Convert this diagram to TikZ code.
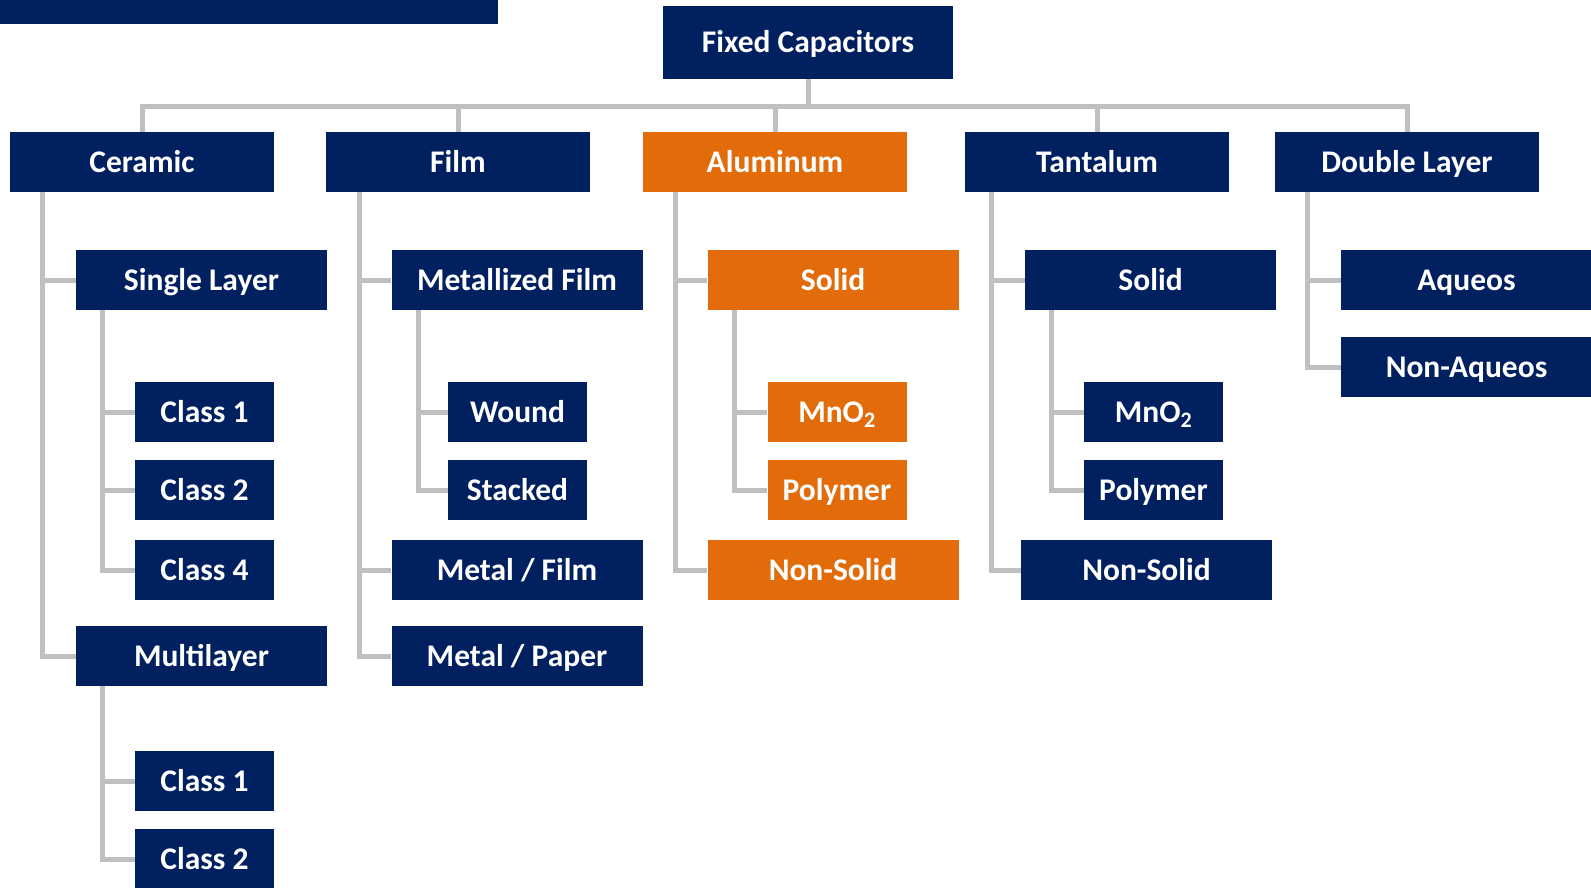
\documentclass[tikz,border=0pt]{standalone}
\usepackage{fontspec}
\setmainfont{Carlito}
\definecolor{capnavy}{RGB}{0,32,96}
\definecolor{caporange}{RGB}{227,108,10}
\definecolor{capgray}{RGB}{191,191,191}
\begin{document}
\begin{tikzpicture}
[x=1pt,y=-1pt,
  boxdecorate/.style={shape=rectangle,fill=capnavy,text=white,inner sep=0pt,%
    minimum height=60pt,text height=20pt,text depth=0pt,%
    font=\fontsize{31.5}{36}\selectfont\bfseries},
  alubox/.style={boxdecorate,fill=caporange},
  topwidth/.style={minimum width=264pt},
  midwidth/.style={minimum width=251pt},
  lowwidth/.style={minimum width=139pt},
  linkdecorate/.style={draw=capgray,line width=5pt}]
\useasboundingbox (0,0) rectangle (1591,887);
% title bar, cut off at the top
\fill[capnavy] (0,0) rectangle (498,24);
% nodes or vertices
\node (fc) at (808,42.5) [boxdecorate,minimum width=290pt,minimum height=73pt] {Fixed Capacitors};
\coordinate (bus) at (808,106);
\node (ceramic) at (142,162) [boxdecorate,topwidth] {Ceramic};
\node (film) at (458,162) [boxdecorate,topwidth] {Film};
\node (alu) at (775,162) [alubox,topwidth] {Aluminum};
\node (tant) at (1097,162) [boxdecorate,topwidth] {Tantalum};
\node (dbl) at (1407,162) [boxdecorate,topwidth] {Double Layer};
% ceramic
\node (single) at (201.5,280) [boxdecorate,midwidth] {Single Layer};
\node (sclass1) at (204.5,412) [boxdecorate,lowwidth] {Class 1};
\node (sclass2) at (204.5,490) [boxdecorate,lowwidth] {Class 2};
\node (sclass4) at (204.5,570) [boxdecorate,lowwidth] {Class 4};
\node (multi) at (201.5,656) [boxdecorate,midwidth] {Multilayer};
\node (mclass1) at (204.5,781) [boxdecorate,lowwidth] {Class 1};
\node (mclass2) at (204.5,859) [boxdecorate,lowwidth] {Class 2};
% film
\node (metfilm) at (517,280) [boxdecorate,midwidth] {Metallized Film};
\node (wound) at (517.5,412) [boxdecorate,lowwidth] {Wound};
\node (stacked) at (517.5,490) [boxdecorate,lowwidth] {Stacked};
\node (metalfilm) at (517,570) [boxdecorate,midwidth] {Metal / Film};
\node (metalpaper) at (517,656) [boxdecorate,midwidth] {Metal / Paper};
% aluminum
\node (asolid) at (833,280) [alubox,midwidth] {Solid};
\node (amno) at (837,412) [alubox,lowwidth] {MnO\textsubscript{2}};
\node (apoly) at (837,490) [alubox,lowwidth] {Polymer};
\node (anonsolid) at (833,570) [alubox,midwidth] {Non-Solid};
% tantalum
\node (tsolid) at (1150.5,280) [boxdecorate,midwidth] {Solid};
\node (tmno) at (1153.5,412) [boxdecorate,lowwidth] {MnO\textsubscript{2}};
\node (tpoly) at (1153.5,490) [boxdecorate,lowwidth] {Polymer};
\node (tnonsolid) at (1146.5,570) [boxdecorate,midwidth] {Non-Solid};
% double layer
\node (aq) at (1466.5,280) [boxdecorate,midwidth] {Aqueos};
\node (nonaq) at (1466.5,367) [boxdecorate,midwidth] {Non-Aqueos};
% edges or lines
\draw[linkdecorate] (fc.south) -- (bus);
\foreach \top in {ceramic,film,alu,tant,dbl}
  \draw[linkdecorate] (\top.north) |- (bus);
\draw[linkdecorate] ([xshift=33pt]ceramic.south west) |- (single.west);
\draw[linkdecorate] ([xshift=33pt]ceramic.south west) |- (multi.west);
\draw[linkdecorate] ([xshift=27pt]single.south west) |- (sclass1.west);
\draw[linkdecorate] ([xshift=27pt]single.south west) |- (sclass2.west);
\draw[linkdecorate] ([xshift=27pt]single.south west) |- (sclass4.west);
\draw[linkdecorate] ([xshift=27pt]multi.south west) |- (mclass1.west);
\draw[linkdecorate] ([xshift=27pt]multi.south west) |- (mclass2.west);
\draw[linkdecorate] ([xshift=34pt]film.south west) |- (metfilm.west);
\draw[linkdecorate] ([xshift=34pt]film.south west) |- (metalfilm.west);
\draw[linkdecorate] ([xshift=34pt]film.south west) |- (metalpaper.west);
\draw[linkdecorate] ([xshift=27pt]metfilm.south west) |- (wound.west);
\draw[linkdecorate] ([xshift=27pt]metfilm.south west) |- (stacked.west);
\draw[linkdecorate] ([xshift=33pt]alu.south west) |- (asolid.west);
\draw[linkdecorate] ([xshift=33pt]alu.south west) |- (anonsolid.west);
\draw[linkdecorate] ([xshift=27pt]asolid.south west) |- (amno.west);
\draw[linkdecorate] ([xshift=27pt]asolid.south west) |- (apoly.west);
\draw[linkdecorate] ([xshift=27pt]tant.south west) |- (tsolid.west);
\draw[linkdecorate] ([xshift=27pt]tant.south west) |- (tnonsolid.west);
\draw[linkdecorate] ([xshift=27pt]tsolid.south west) |- (tmno.west);
\draw[linkdecorate] ([xshift=27pt]tsolid.south west) |- (tpoly.west);
\draw[linkdecorate] ([xshift=33pt]dbl.south west) |- (aq.west);
\draw[linkdecorate] ([xshift=33pt]dbl.south west) |- (nonaq.west);
\end{tikzpicture}
\end{document}
